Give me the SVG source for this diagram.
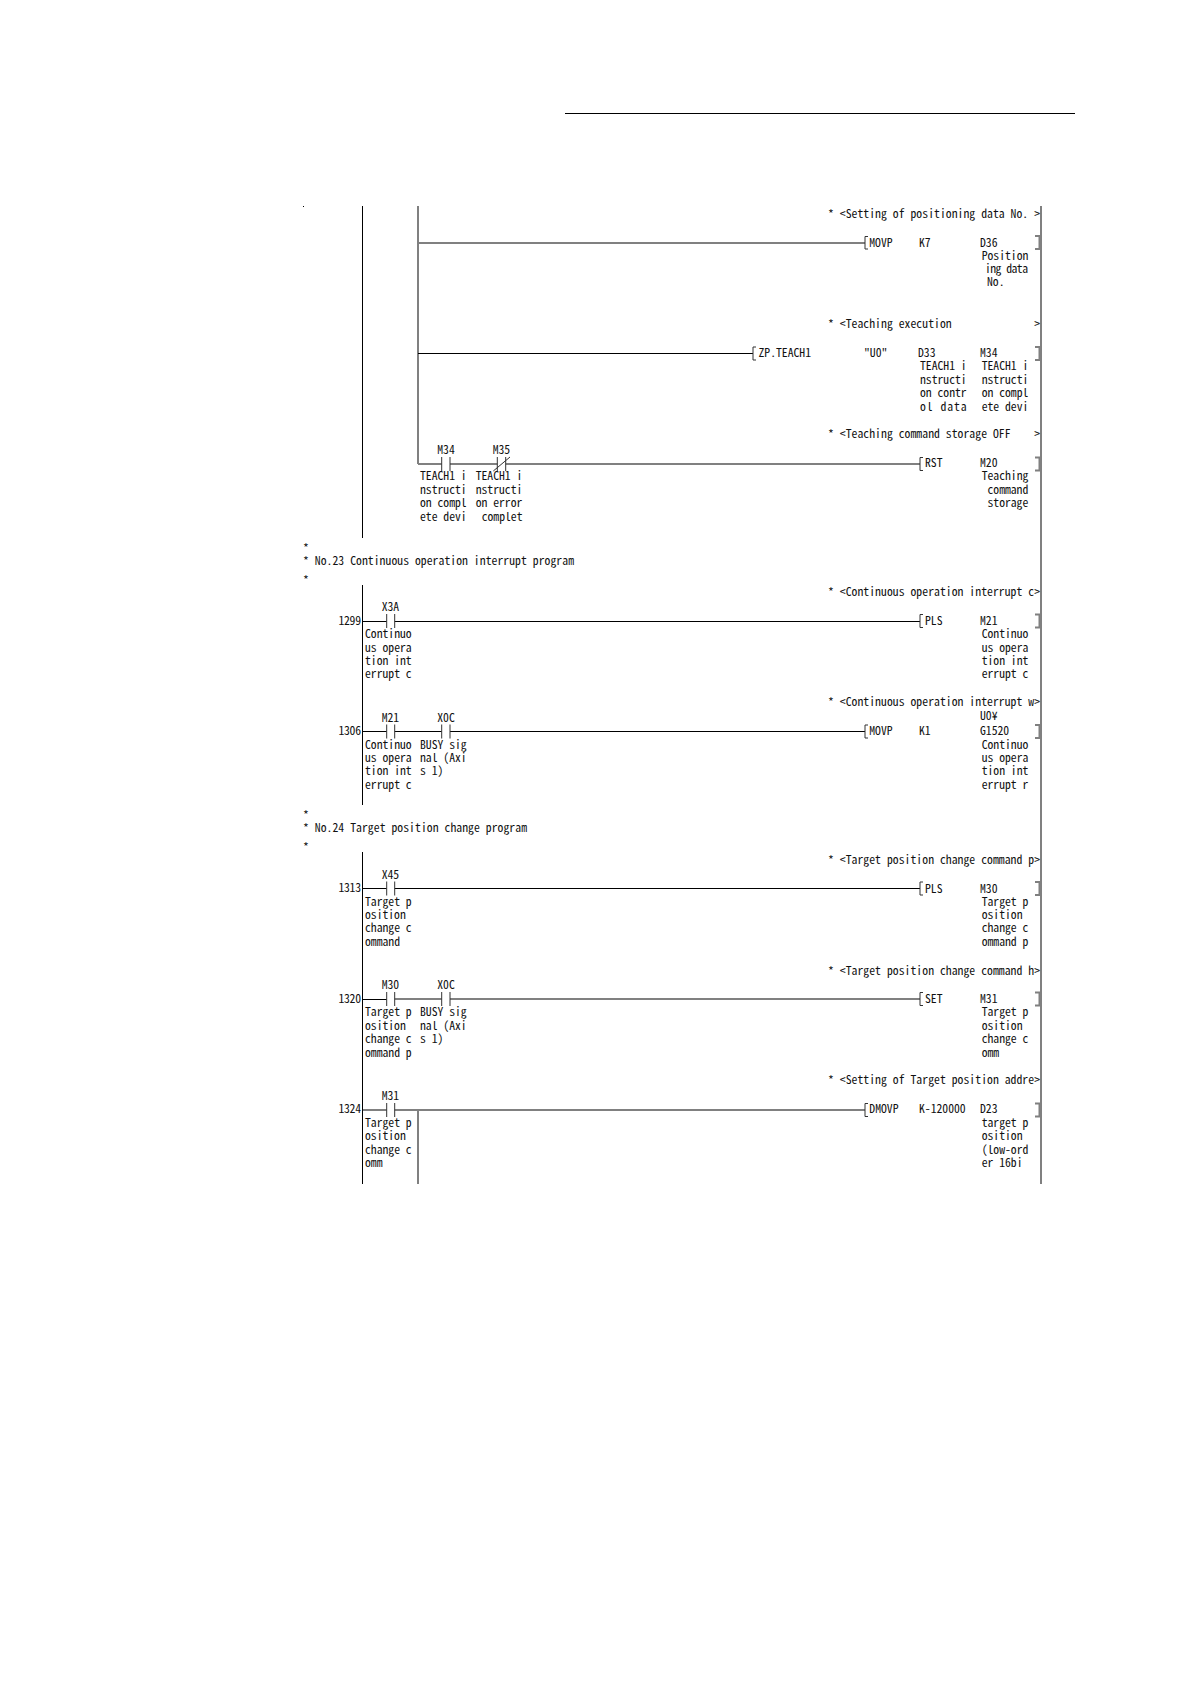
<svg xmlns="http://www.w3.org/2000/svg" width="1190" height="1684" viewBox="0 0 1190 1684">
<style>
text{font-family:"Noto Sans CJK JP","Liberation Mono",monospace;font-feature-settings:"hwid";font-size:11.7px;fill:#111;white-space:pre}
.k{stroke:#000;stroke-width:1;fill:none}
.g{stroke:#808080;stroke-width:2;fill:none}
.c{stroke:#333;stroke-width:1;fill:none}
</style>
<rect width="1190" height="1684" fill="#fff"/>
<g id="connectors">
<path class="k" d="M565 113.500H1075"/>
<path class="k" d="M303 206.500h1"/>
<path class="k" d="M362.500 206V538M362.500 585V805M362.500 852V1184"/>
<path class="g" d="M1041 206V1184M418 206V464M418 1110V1184"/>
<path class="g" d="M418 243H865"/>
<path class="k" d="M418 353.500H753"/>
<path class="g" d="M418 464H441.700M450 464H497.300M505.700 464H920"/>
<path class="k" d="M362 621.500H386.700M394.700 621.500H920"/>
<path class="k" d="M362 731.500H386.700M394.700 731.500H441.700M450 731.500H865"/>
<path class="k" d="M362 888.500H386.700M394.700 888.500H920"/>
<path class="k" d="M362 999.500H386.700"/>
<path class="g" d="M394.700 999H441.700M450 999H920"/>
<path class="k" d="M362 1110H386.700"/>
<path class="g" d="M394.700 1110H865"/>
</g>
<g id="contacts">
<path class="c" d="M441.700 457V471M450 457V471M497.300 457V471M505.700 457V471M493.300 471L510 457"/>
<path class="c" d="M386.700 614V628M394.700 614V628"/>
<path class="c" d="M386.700 724.500V738.500M394.700 724.500V738.500M441.700 724.500V738.500M450 724.500V738.500"/>
<path class="c" d="M386.700 881.500V895.500M394.700 881.500V895.500"/>
<path class="c" d="M386.700 992V1006M394.700 992V1006M441.700 992V1006M450 992V1006"/>
<path class="c" d="M386.700 1103V1117M394.700 1103V1117"/>
</g>
<g id="brackets">
<path class="c" d="M868 236.500H865V249H868M756 347H753V360H756M923 457.500H920V470.500H923M923 614.500H920V627.500H923M868 725H865V738H868M923 882H920V895H923M923 992.500H920V1005.500H923M868 1103.500H865V1116.500H868"/>
<path class="g" d="M1035 236H1039.500V249H1035M1035 347H1039.500V360H1035M1035 457.500H1039.500V470.500H1035M1035 614.500H1039.500V627.500H1035M1035 725H1039.500V738H1035M1035 882H1039.500V895H1035M1035 992.500H1039.500V1005.500H1035M1035 1103.500H1039.500V1116.500H1035"/>
</g>
<g id="headers">
<text x="303" y="552" textLength="5.800">*</text>
<text x="303" y="564.500" textLength="271">* No.23 Continuous operation interrupt program</text>
<text x="303" y="584" textLength="5.800">*</text>
<text x="303" y="819" textLength="5.800">*</text>
<text x="303" y="832" textLength="224">* No.24 Target position change program</text>
<text x="303" y="851" textLength="5.800">*</text>
</g>
<g id="rung-data-no">
<text x="828" y="218" textLength="212">* &lt;Setting of positioning data No. &gt;</text>
<text x="869.300" y="246.700" textLength="23.300">MOVP</text>
<text x="919" y="246.700" textLength="11.700">K7</text>
<text x="980" y="246.700" textLength="17.500">D36</text>
<text x="981.700" y="259.500" textLength="46.700">Position</text>
<text x="985" y="273" textLength="43">ing data</text>
<text x="987" y="286" textLength="17.500">No.</text>
</g>
<g id="rung-teach-exec">
<text x="828" y="328.300" textLength="212">* &lt;Teaching execution              &gt;</text>
<text x="758.500" y="356.700" textLength="52.500">ZP.TEACH1</text>
<text x="864" y="356.700" textLength="23.300">"U0"</text>
<text x="918" y="356.700" textLength="17.500">D33</text>
<text x="980" y="356.700" textLength="17.500">M34</text>
<text x="920" y="370" textLength="46.700">TEACH1 i</text>
<text x="920" y="383.500" textLength="46.700">nstructi</text>
<text x="920" y="397" textLength="46.700">on contr</text>
<text x="920" y="410.500" textLength="46.700">ol data</text>
<text x="981.700" y="370" textLength="46.700">TEACH1 i</text>
<text x="981.700" y="383.500" textLength="46.700">nstructi</text>
<text x="981.700" y="397" textLength="46.700">on compl</text>
<text x="981.700" y="410.500" textLength="46.700">ete devi</text>
</g>
<g id="rung-teach-off">
<text x="828" y="438.300" textLength="212">* &lt;Teaching command storage OFF    &gt;</text>
<text x="437.300" y="454" textLength="17.500">M34</text>
<text x="492.700" y="454" textLength="17.500">M35</text>
<text x="420" y="480" textLength="46.700">TEACH1 i</text>
<text x="420" y="494" textLength="46.700">nstructi</text>
<text x="420" y="507.300" textLength="46.700">on compl</text>
<text x="420" y="520.700" textLength="46.700">ete devi</text>
<text x="475.700" y="480" textLength="46.700">TEACH1 i</text>
<text x="475.700" y="494" textLength="46.700">nstructi</text>
<text x="475.700" y="507.300" textLength="46.700">on error</text>
<text x="481.700" y="520.700" textLength="40.800">complet</text>
<text x="925" y="467.300" textLength="17.500">RST</text>
<text x="980" y="467.300" textLength="17.500">M20</text>
<text x="981.700" y="480" textLength="46.700">Teaching</text>
<text x="987.500" y="494" textLength="40.800">command</text>
<text x="987.500" y="507.300" textLength="40.800">storage</text>
</g>
<g id="rung-1299">
<text x="828" y="596" textLength="212">* &lt;Continuous operation interrupt c&gt;</text>
<text x="338.500" y="625" textLength="22.500">1299</text>
<text x="381.700" y="611" textLength="17.500">X3A</text>
<text x="365" y="638" textLength="46.700">Continuo</text>
<text x="365" y="651.500" textLength="46.700">us opera</text>
<text x="365" y="664.500" textLength="46.700">tion int</text>
<text x="365" y="678" textLength="46.700">errupt c</text>
<text x="925" y="625" textLength="17.500">PLS</text>
<text x="980" y="625" textLength="17.500">M21</text>
<text x="981.700" y="638" textLength="46.700">Continuo</text>
<text x="981.700" y="651.500" textLength="46.700">us opera</text>
<text x="981.700" y="664.500" textLength="46.700">tion int</text>
<text x="981.700" y="678" textLength="46.700">errupt c</text>
</g>
<g id="rung-1306">
<text x="828" y="706" textLength="212">* &lt;Continuous operation interrupt w&gt;</text>
<text x="338.500" y="735.300" textLength="22.500">1306</text>
<text x="381.700" y="721.500" textLength="17.500">M21</text>
<text x="437.300" y="721.500" textLength="17.500">X0C</text>
<text x="365" y="748.500" textLength="46.700">Continuo</text>
<text x="365" y="762" textLength="46.700">us opera</text>
<text x="365" y="775" textLength="46.700">tion int</text>
<text x="365" y="788.500" textLength="46.700">errupt c</text>
<text x="420" y="748.500" textLength="46.700">BUSY sig</text>
<text x="420" y="762" textLength="46.700">nal (Axi</text>
<text x="420" y="775" textLength="23.300">s 1)</text>
<text x="869.300" y="735" textLength="23.300">MOVP</text>
<text x="919" y="735" textLength="11.700">K1</text>
<text x="980" y="720" textLength="17.500">U0¥</text>
<text x="980" y="735" textLength="29.200">G1520</text>
<text x="981.700" y="748.500" textLength="46.700">Continuo</text>
<text x="981.700" y="762" textLength="46.700">us opera</text>
<text x="981.700" y="775" textLength="46.700">tion int</text>
<text x="981.700" y="788.500" textLength="46.700">errupt r</text>
</g>
<g id="rung-1313">
<text x="828" y="864" textLength="212">* &lt;Target position change command p&gt;</text>
<text x="338.500" y="892.300" textLength="22.500">1313</text>
<text x="381.700" y="878.500" textLength="17.500">X45</text>
<text x="365" y="905.500" textLength="46.700">Target p</text>
<text x="365" y="919" textLength="40.800">osition</text>
<text x="365" y="932" textLength="46.700">change c</text>
<text x="365" y="945.500" textLength="35">ommand</text>
<text x="925" y="892.500" textLength="17.500">PLS</text>
<text x="980" y="892.500" textLength="17.500">M30</text>
<text x="981.700" y="905.500" textLength="46.700">Target p</text>
<text x="981.700" y="919" textLength="40.800">osition</text>
<text x="981.700" y="932" textLength="46.700">change c</text>
<text x="981.700" y="945.500" textLength="46.700">ommand p</text>
</g>
<g id="rung-1320">
<text x="828" y="974.500" textLength="212">* &lt;Target position change command h&gt;</text>
<text x="338.500" y="1003" textLength="22.500">1320</text>
<text x="381.700" y="989" textLength="17.500">M30</text>
<text x="437.300" y="989" textLength="17.500">X0C</text>
<text x="365" y="1016" textLength="46.700">Target p</text>
<text x="365" y="1029.500" textLength="40.800">osition</text>
<text x="365" y="1043" textLength="46.700">change c</text>
<text x="365" y="1056.500" textLength="46.700">ommand p</text>
<text x="420" y="1016" textLength="46.700">BUSY sig</text>
<text x="420" y="1029.500" textLength="46.700">nal (Axi</text>
<text x="420" y="1043" textLength="23.300">s 1)</text>
<text x="925" y="1003" textLength="17.500">SET</text>
<text x="980" y="1003" textLength="17.500">M31</text>
<text x="981.700" y="1016" textLength="46.700">Target p</text>
<text x="981.700" y="1029.500" textLength="40.800">osition</text>
<text x="981.700" y="1043" textLength="46.700">change c</text>
<text x="981.700" y="1056.500" textLength="17.500">omm</text>
</g>
<g id="rung-1324">
<text x="828" y="1084" textLength="212">* &lt;Setting of Target position addre&gt;</text>
<text x="338.500" y="1113.300" textLength="22.500">1324</text>
<text x="381.700" y="1099.500" textLength="17.500">M31</text>
<text x="365" y="1127" textLength="46.700">Target p</text>
<text x="365" y="1140" textLength="40.800">osition</text>
<text x="365" y="1153.500" textLength="46.700">change c</text>
<text x="365" y="1167" textLength="17.500">omm</text>
<text x="869.300" y="1113" textLength="29.200">DMOVP</text>
<text x="919" y="1113" textLength="46.700">K-120000</text>
<text x="980" y="1113" textLength="17.500">D23</text>
<text x="981.700" y="1127" textLength="46.700">target p</text>
<text x="981.700" y="1140" textLength="40.800">osition</text>
<text x="981.700" y="1153.500" textLength="46.700">(low-ord</text>
<text x="981.700" y="1167" textLength="40.800">er 16bi</text>
</g>
</svg>
